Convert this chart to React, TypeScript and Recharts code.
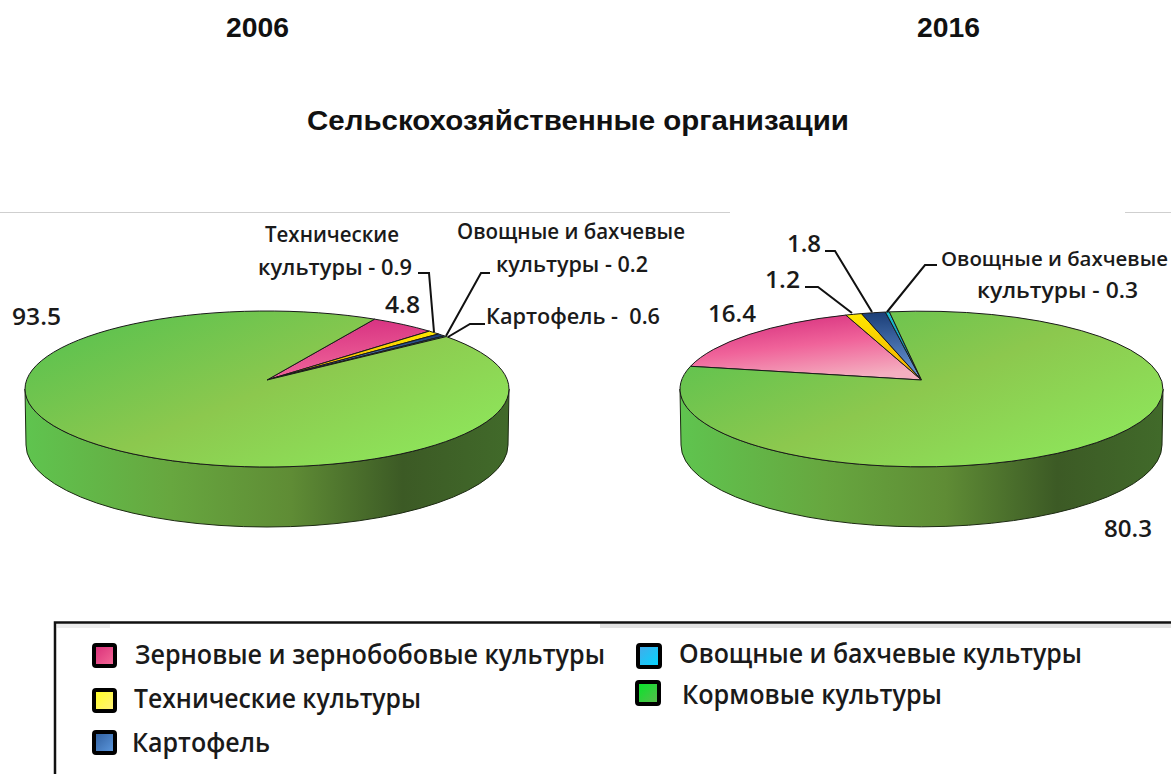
import React from "react";
import { PieChart, Pie, Cell } from "recharts";

const CATEGORIES = [
  "Зерновые и зернобобовые культуры",
  "Технические культуры",
  "Картофель",
  "Овощные и бахчевые культуры",
  "Кормовые культуры",
];
const VALUES_2006 = [4.8, 0.9, 0.6, 0.2, 93.5];
const VALUES_2016 = [16.4, 1.2, 1.8, 0.3, 80.3];
const YEARS = ["2006", "2016"];
const TITLE = "Сельскохозяйственные организации";

const table = (values: number[]) => CATEGORIES.map((name, i) => ({ name, value: values[i] }));

const SANS = "'Open Sans', 'Noto Sans', sans-serif";
const TITLE_FONT = "'Liberation Sans', Arial, sans-serif";
const INK = "#1a1a1a";

// Tilt of the 3D pie: rim ellipse height relative to its width, the offset of the ellipse
// centre under the apex, and the wall depth at the sides and the extra sag at the front.
const TILT = 78 / 242;
const APEX_DROP = 9;
const DEPTH = 56;
const SAG = 4;

function tiltedSector(props: any) {
  const { cx, cy, outerRadius, startAngle, endAngle, fill } = props;
  const rx = outerRadius;
  const ry = outerRadius * TILT;
  const ey = cy + APEX_DROP;
  const d = APEX_DROP / ry;
  const a = (1 - Math.sqrt(1 - d * d)) / d;
  const rim = (deg: number) => {
    const r = (deg * Math.PI) / 180;
    const x = Math.cos(r);
    const y = Math.sin(r);
    return Math.atan2(2 * a + y * (1 + a * a), x * (1 - a * a));
  };
  const p = (t: number) => [cx + rx * Math.cos(t), ey - ry * Math.sin(t)];
  const t0 = rim(startAngle);
  const t1 = rim(endAngle);
  const [x0, y0] = p(t0);
  const [x1, y1] = p(t1);
  const span = Math.abs(startAngle - endAngle);
  const large = span > 180 ? 1 : 0;
  const top = `M${cx},${cy}L${x0},${y0}A${rx},${ry} 0 ${large} 1 ${x1},${y1}Z`;
  const wall =
    `M${cx - rx},${ey}L${cx - rx + 1},${ey + DEPTH}` +
    `A${rx - 1},${ry + SAG} 0 0 0 ${cx + rx - 1},${ey + DEPTH}L${cx + rx},${ey}` +
    `A${rx},${ry} 0 0 1 ${cx - rx},${ey}Z`;
  return (
    <g>
      {span > 180 && <path d={wall} fill="url(#wallGreen)" stroke="#1c2a12" strokeWidth={1} />}
      <path d={top} fill={fill} stroke="#1a1a1a" strokeWidth={1} strokeLinejoin="round" />
    </g>
  );
}

const grad = (id: string, stops: [number, string][], x1 = 0, y1 = 0, x2 = 0, y2 = 1) => (
  <linearGradient id={id} x1={x1} y1={y1} x2={x2} y2={y2} key={id}>
    {stops.map(([o, c]) => (
      <stop key={o} offset={o} stopColor={c} />
    ))}
  </linearGradient>
);

const FILLS_2006 = ["url(#pinkA)", "url(#yellow)", "url(#blue)", "url(#cyan)", "url(#topGreen)"];
const FILLS_2016 = ["url(#pinkB)", "url(#yellow)", "url(#blue)", "url(#cyan)", "url(#topGreen)"];

const Txt = ({ x, y, w, size = 22, weight = 600, children }: any) => (
  <text
    x={x}
    y={y}
    fontFamily={SANS}
    fontSize={size}
    fontWeight={weight}
    fill={INK}
    textLength={w}
    lengthAdjust="spacingAndGlyphs"
    style={{ whiteSpace: "pre" }}
  >
    {children}
  </text>
);

const Leader = ({ d }: { d: string }) => <path d={d} fill="none" stroke="#111" strokeWidth={2} />;

const Swatch = ({ x, y, s = 25, id }: any) => (
  <rect x={x + 2} y={y + 2} width={s - 4} height={s - 4} rx={2} fill={`url(#${id})`} stroke="#000" strokeWidth={4} />
);

export default function App() {
  return (
    <div style={{ position: "absolute", left: 0, top: 0, width: 1171, height: 774, overflow: "hidden", background: "#fff" }}>
      <PieChart width={1171} height={774} margin={{ top: 0, right: 0, bottom: 0, left: 0 }}>
        <defs>
          {grad("pinkA", [[0, "#D62F80"], [1, "#F26A9C"]], 0.3, 0, 0.5, 1)}
          {grad("pinkB", [[0, "#D42C7C"], [0.5, "#F0639A"], [1, "#F4AFC0"]], 0.2, 0, 0.6, 1)}
          {grad("yellow", [[0, "#FFE800"], [1, "#F2A900"]])}
          {grad("blue", [[0, "#1B3E77"], [1, "#6F9DDE"]])}
          {grad("cyan", [[0, "#19BFD0"], [1, "#1178A0"]])}
          {grad("topGreen", [[0, "#5CC24F"], [0.5, "#8CC84E"], [1, "#8EE65B"]], 0.05, 0.15, 0.95, 0.85)}
          {grad("wallGreen", [[0, "#5FC44F"], [0.3, "#67A73F"], [0.55, "#5F8C35"], [0.78, "#3C5A25"], [1, "#416A2A"]], 0, 0, 1, 0)}
          {grad("swPink", [[0, "#D82C78"], [1, "#F56C98"]], 0, 0, 1, 1)}
          {grad("swYellow", [[0, "#FFFF20"], [1, "#FFF080"]], 0, 0, 1, 1)}
          {grad("swBlue", [[0, "#2D5C9C"], [1, "#5F9BE0"]], 0, 0, 1, 1)}
          {grad("swCyan", [[0, "#48A8E8"], [1, "#00D8FF"]], 0, 0, 1, 1)}
          {grad("swGreen", [[0, "#00E828"], [1, "#60B850"]], 0, 0, 1, 1)}
        </defs>
        <Pie
          data={table(VALUES_2006)}
          dataKey="value"
          nameKey="name"
          cx={267}
          cy={380}
          innerRadius={0}
          outerRadius={242}
          startAngle={60.5}
          endAngle={-299.5}
          paddingAngle={0}
          shape={tiltedSector}
          label={false}
          labelLine={false}
          isAnimationActive={false}
        >
          {FILLS_2006.map((f, i) => (
            <Cell key={i} fill={f} />
          ))}
        </Pie>
        <Pie
          data={table(VALUES_2016)}
          dataKey="value"
          nameKey="name"
          cx={921.5}
          cy={380}
          innerRadius={0}
          outerRadius={241.5}
          startAngle={169.5}
          endAngle={-190.5}
          paddingAngle={0}
          shape={tiltedSector}
          label={false}
          labelLine={false}
          isAnimationActive={false}
        >
          {FILLS_2016.map((f, i) => (
            <Cell key={i} fill={f} />
          ))}
        </Pie>
      </PieChart>

      <svg width={1171} height={774} style={{ position: "absolute", left: 0, top: 0, pointerEvents: "none" }}>
        <g fontFamily={TITLE_FONT} fontWeight={700} fontSize={27.5} fill="#111" textAnchor="middle">
          <text x={257.5} y={37} textLength={63} lengthAdjust="spacingAndGlyphs">{YEARS[0]}</text>
          <text x={948.5} y={37} textLength={63} lengthAdjust="spacingAndGlyphs">{YEARS[1]}</text>
          <text x={578} y={130} textLength={542} lengthAdjust="spacingAndGlyphs">{TITLE}</text>
        </g>

        <path d="M0,212.5H730M1125,212.5H1171" stroke="#cfcfcf" strokeWidth={1} />

        {/* 2006 labels */}
        <Txt x={265} y={242} w={134}>Технические</Txt>
        <Txt x={258} y={275} w={154}>{`культуры - ${VALUES_2006[1]}`}</Txt>
        <Txt x={385} y={313} w={35} size={23}>{VALUES_2006[0]}</Txt>
        <Txt x={12} y={325} w={49} size={23}>{VALUES_2006[4]}</Txt>
        <Txt x={457} y={239} w={228}>Овощные и бахчевые</Txt>
        <Txt x={496} y={272} w={152}>{`культуры - ${VALUES_2006[3]}`}</Txt>
        <Txt x={486} y={324} w={174}>{`Картофель -  ${VALUES_2006[2]}`}</Txt>
        <Leader d="M418,273H429L434,332" />
        <Leader d="M490,273H481L446,336" />
        <Leader d="M485,324H470L448,337" />

        {/* 2016 labels */}
        <Txt x={787} y={252} w={34} size={23}>{VALUES_2016[2]}</Txt>
        <Txt x={765} y={288} w={35} size={23}>{VALUES_2016[1]}</Txt>
        <Txt x={708} y={322} w={48} size={23}>{VALUES_2016[0]}</Txt>
        <Txt x={941} y={266} w={227} size={20.5}>Овощные и бахчевые</Txt>
        <Txt x={977} y={298} w={161}>{`культуры - ${VALUES_2016[3]}`}</Txt>
        <Txt x={1104} y={537} w={48} size={23}>{VALUES_2016[4]}</Txt>
        <Leader d="M825,251H835L872,312" />
        <Leader d="M805,287H818L852,313" />
        <Leader d="M937,265H925L887,312" />

        {/* legend */}
        <path d="M55,774V622.5H1171" fill="none" stroke="#111" strokeWidth={2.5} />
        <path d="M600,626H1171" stroke="#e2e2e2" strokeWidth={4} />
        <path d="M57,626H110" stroke="#ececec" strokeWidth={4} />

        <Swatch x={92} y={643} id="swPink" />
        <Txt x={135} y={664} w={470} size={27}>{CATEGORIES[0]}</Txt>
        <Swatch x={92} y={688} id="swYellow" />
        <Txt x={134} y={708} w={287} size={27}>{CATEGORIES[1]}</Txt>
        <Swatch x={92} y={730} id="swBlue" />
        <Txt x={132} y={752} w={138} size={27}>{CATEGORIES[2]}</Txt>
        <Swatch x={636} y={643} s={26} id="swCyan" />
        <Txt x={679} y={663} w={403} size={27}>{CATEGORIES[3]}</Txt>
        <Swatch x={635} y={680} s={26} id="swGreen" />
        <Txt x={682} y={704} w={260} size={27}>{CATEGORIES[4]}</Txt>
      </svg>
    </div>
  );
}
